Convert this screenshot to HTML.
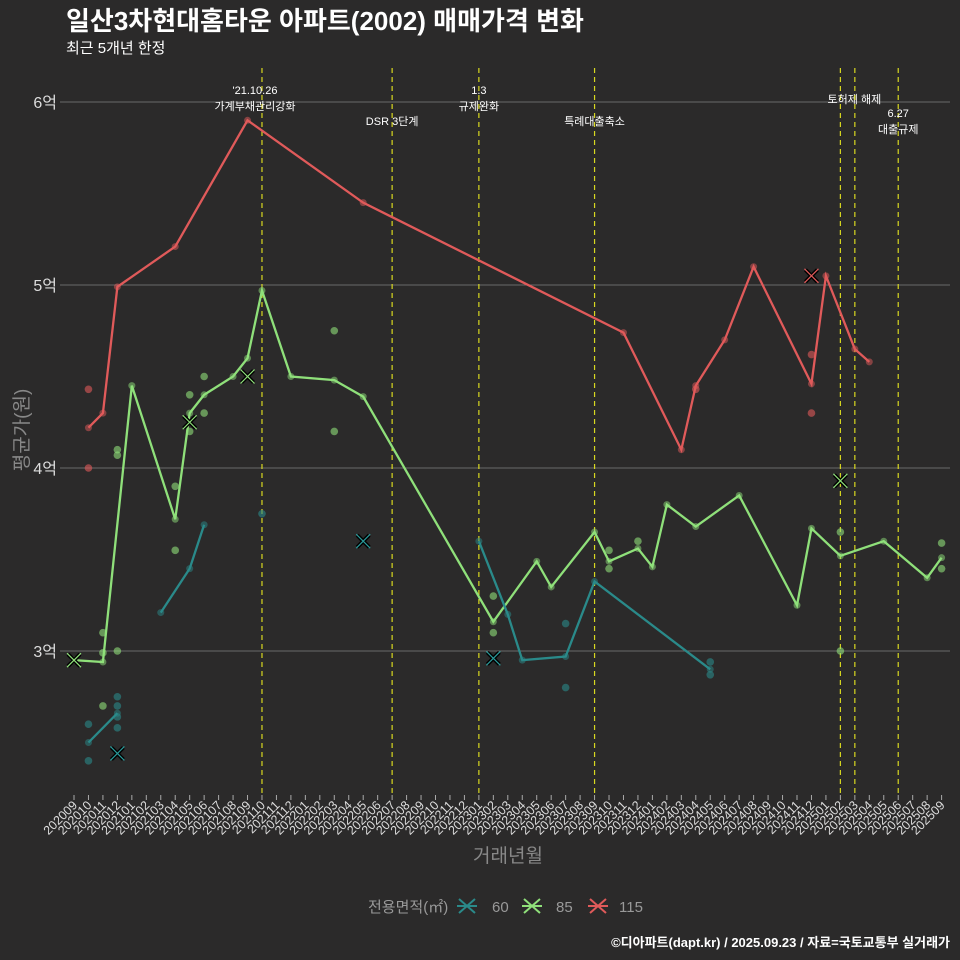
<!DOCTYPE html>
<html><head><meta charset="utf-8"><style>
html,body{margin:0;padding:0;background:#2b2a2a;}
svg{display:block;font-family:"Liberation Sans","Noto Sans CJK KR",sans-serif;}
</style></head><body>
<svg id="chart" width="960" height="960" viewBox="0 0 960 960" xmlns="http://www.w3.org/2000/svg">
<rect width="960" height="960" fill="#2b2a2a"/>
<text x="66" y="30" fill="#fff" font-size="26" font-weight="bold">일산3차현대홈타운 아파트(2002) 매매가격 변화</text>
<text x="66" y="53" fill="#fff" font-size="15">최근 5개년 한정</text>
<g id="grid"></g><g id="vlines"></g><g id="marks"></g><g id="xaxis"></g>
<text x="0" y="0" transform="translate(28,430) rotate(-90)" text-anchor="middle" fill="#888" font-size="19">평균가(원)</text>
<text x="508" y="862" text-anchor="middle" fill="#888" font-size="19">거래년월</text>
<g>
<text x="368" y="912" fill="#999" font-size="15">전용면적(㎡)</text>
<g><path d="M459 899l16 14M459 913l16 -14M457 906h20" stroke="#2a8a8a" stroke-width="2"/><text x="492" y="912" fill="#999" font-size="15">60</text></g>
<g><path d="M524 899l16 14M524 913l16 -14M522 906h20" stroke="#8fe07a" stroke-width="2"/><text x="556" y="912" fill="#999" font-size="15">85</text></g>
<g><path d="M590 899l16 14M590 913l16 -14M588 906h20" stroke="#e05a5a" stroke-width="2"/><text x="619" y="912" fill="#999" font-size="15">115</text></g>
</g>
<text x="950" y="947" text-anchor="end" fill="#fff" font-size="13" font-weight="bold">©디아파트(dapt.kr) / 2025.09.23 / 자료=국토교통부 실거래가</text>
</svg>
<script>
const months=[];for(let y=2020,m=9;!(y===2025&&m===10);){months.push(y+String(m).padStart(2,'0'));m++;if(m>12){m=1;y++;}}
const yTicks=[3,4,5,6];
const yTickLabels=['3억','4억','5억','6억'];
const line60=[['202010',2.50],['202012',2.66],null,['202103',3.21],['202105',3.45],['202106',3.69],null,['202301',3.60],['202303',3.20],['202304',2.95],['202307',2.97],['202309',3.38],['202405',2.90]];
const line85=[['202009',2.95],['202011',2.94],['202101',4.45],['202104',3.72],['202105',4.30],['202106',4.40],['202108',4.50],['202109',4.60],['202110',4.97],['202112',4.50],['202203',4.48],['202205',4.39],['202302',3.16],['202305',3.49],['202306',3.35],['202309',3.65],['202310',3.49],['202312',3.56],['202401',3.46],['202402',3.80],['202404',3.68],['202407',3.85],['202411',3.25],['202412',3.67],['202502',3.52],['202505',3.60],['202508',3.40],['202509',3.51]];
const line115=[['202010',4.22],['202011',4.30],['202012',4.99],['202104',5.21],['202109',5.90],['202205',5.45],['202311',4.74],['202403',4.10],['202404',4.45],['202406',4.70],['202408',5.10],['202412',4.46],['202501',5.05],['202503',4.65],['202504',4.58]];
const dots60=[['202010',2.60],['202010',2.40],['202012',2.75],['202012',2.70],['202012',2.64],['202012',2.58],['202110',3.75],['202307',3.15],['202307',2.80],['202405',2.94],['202405',2.87]];
const dots85=[['202011',3.10],['202011',2.99],['202011',2.70],['202012',4.10],['202012',4.07],['202012',3.00],['202104',3.90],['202104',3.55],['202105',4.40],['202105',4.20],['202106',4.50],['202106',4.30],['202203',4.75],['202203',4.20],['202302',3.30],['202302',3.10],['202310',3.55],['202310',3.45],['202312',3.60],['202502',3.65],['202502',3.00],['202509',3.59],['202509',3.45]];
const dots115=[['202010',4.43],['202010',4.00],['202404',4.43],['202412',4.62],['202412',4.30]];
const cross60=[['202012',2.44],['202205',3.60],['202302',2.96]];
const cross85=[['202009',2.95],['202105',4.25],['202109',4.50],['202502',3.93]];
const cross115=[['202412',5.05]];
const events=['202110','202207','202301','202309','202502','202503','202506'];
const eventLabels=[["'21.10.26","가계부채관리강화"],["DSR 3단계"],["1.3","규제완화"],["특례대출축소"],["토허제 해제"],[""],["6.27","대출규제"]];
const eventLabelY=[[94,110],[125],[94,110],[125],[103],[0],[117,133]];
const eventDx=[-7,0,0,0,14,0,0];

const X=m=>74+months.indexOf(m)*14.46;
const Y=v=>651-(v-3)*183;
const NS='http://www.w3.org/2000/svg';
function el(parent,tag,attrs){const e=document.createElementNS(NS,tag);for(const k in attrs)e.setAttribute(k,attrs[k]);document.getElementById(parent).appendChild(e);return e;}

yTicks.forEach((t,i)=>{
 const g=el('grid','line',{x1:60,x2:950,y1:Y(t),y2:Y(t),stroke:'#6a6a6a','stroke-width':1});
 
 
 const tx=el('grid','text',{x:57,y:Y(t)+6,'text-anchor':'end',fill:'#ddd','font-size':16});
 tx.textContent=yTickLabels[i];
 
 
});
events.forEach((m,i)=>{
 const l=el('vlines','line',{x1:X(m),x2:X(m),y1:68,y2:795,stroke:'#d8d820','stroke-width':1.2,'stroke-dasharray':'5,4'});
 
 
 eventLabels[i].forEach((s,j)=>{ if(!s)return;
  const t=el('vlines','text',{x:X(m)+eventDx[i],y:eventLabelY[i][j],'text-anchor':'middle',fill:'#fff','font-size':11});
  t.textContent=s;
  
  
 });
});
months.forEach(m=>{
 const x=X(m);
 const tk=el('xaxis','line',{x1:x,x2:x,y1:795,y2:800,stroke:'#aaa'});
 
 
 const t=el('xaxis','text',{x:0,y:0,transform:`translate(${x+4},${806}) rotate(-45)`,'text-anchor':'end',fill:'#ddd','font-size':12.5});
 t.textContent=m;
 
 
});
function drawDots(arr,color,name){arr.forEach(d=>{
 const c=el('marks','circle',{cx:X(d[0]),cy:Y(d[1]),r:3.8,fill:color,opacity:0.6});
 
 
});}
function drawLine(arr,color,name){
 let segs=[[]];arr.forEach(p=>{if(p===null)segs.push([]);else segs[segs.length-1].push(p);});
 segs.forEach(s=>{
  const p=el('marks','polyline',{points:s.map(q=>X(q[0])+','+Y(q[1])).join(' '),fill:'none',stroke:color,'stroke-width':2.3});
  
  
  s.forEach(q=>{const c=el('marks','circle',{cx:X(q[0]),cy:Y(q[1]),r:3.5,fill:color,opacity:0.5});
   
   });
 });
}
function drawCross(arr,color,name){arr.forEach(d=>{
 const x=X(d[0]),y=Y(d[1]);
 const b=el('marks','path',{d:`M${x-6} ${y-6}L${x+6} ${y+6}M${x-6} ${y+6}L${x+6} ${y-6}`,stroke:'#000','stroke-width':4});
 
 
 const p=el('marks','path',{d:`M${x-7} ${y-7}L${x+7} ${y+7}M${x-7} ${y+7}L${x+7} ${y-7}`,stroke:color,'stroke-width':1.2});
 
 
});}
drawDots(dots115,'#e05a5a','dot-115');drawDots(dots85,'#8fe07a','dot-85');drawDots(dots60,'#2a8a8a','dot-60');
drawLine(line115,'#e05a5a','line-115');drawLine(line85,'#8fe07a','line-85');drawLine(line60,'#2a8a8a','line-60');
drawCross(cross60,'#2a9a9a','cross-60');drawCross(cross85,'#8fe07a','cross-85');drawCross(cross115,'#e05a5a','cross-115');
</script>
</body></html>
